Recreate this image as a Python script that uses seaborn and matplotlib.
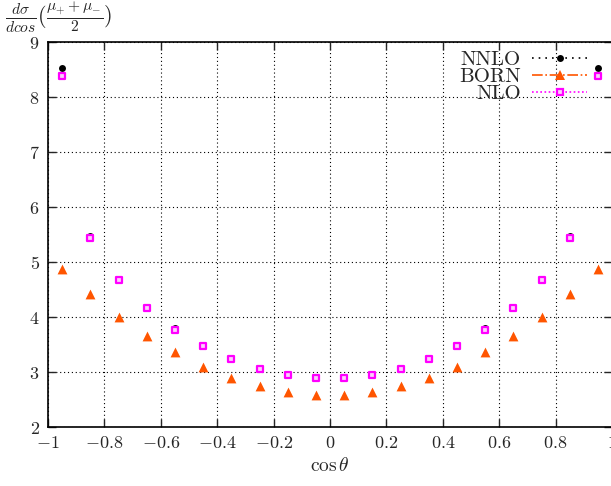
import numpy as np
import pandas as pd
import matplotlib
matplotlib.use("Agg")
import matplotlib.pyplot as plt
import seaborn as sns
from matplotlib.lines import Line2D

# bin centres in cos(theta)
cos_theta = [-0.95, -0.85, -0.75, -0.65, -0.55, -0.45, -0.35, -0.25, -0.15, -0.05,
             0.05, 0.15, 0.25, 0.35, 0.45, 0.55, 0.65, 0.75, 0.85, 0.95]

# values (left half mirrored on the right)
nnlo = [8.53, 5.47, 4.70, 4.19, 3.80, 3.50, 3.25, 3.08, 2.96, 2.90,
        2.90, 2.96, 3.08, 3.25, 3.50, 3.80, 4.19, 4.70, 5.47, 8.53]
born = [4.88, 4.42, 4.00, 3.66, 3.355, 3.09, 2.885, 2.74, 2.63, 2.58,
        2.58, 2.63, 2.74, 2.885, 3.09, 3.355, 3.66, 4.00, 4.42, 4.88]
nlo = [8.39, 5.43, 4.68, 4.17, 3.77, 3.48, 3.23, 3.06, 2.945, 2.89,
       2.89, 2.945, 3.06, 3.23, 3.48, 3.77, 4.17, 4.68, 5.43, 8.39]

xticks = [-1, -0.8, -0.6, -0.4, -0.2, 0, 0.2, 0.4, 0.6, 0.8, 1]
yticks = [2, 3, 4, 5, 6, 7, 8, 9]

ORANGE = "#ff5500"
MAGENTA = "#ff00ff"
PINK = "#fbd0fb"

df = pd.DataFrame({"x": cos_theta, "NNLO": nnlo, "BORN": born, "NLO": nlo})

sns.set_style("ticks")
plt.rcParams["mathtext.fontset"] = "cm"
plt.rcParams["font.family"] = ["cmr10", "DejaVu Serif"]
plt.rcParams["axes.unicode_minus"] = False

fig = plt.figure(figsize=(6.11, 4.86), dpi=100)
ax = fig.add_axes([48 / 611, 1 - 427 / 486, 564 / 611, 385 / 486])

sns.scatterplot(data=df, x="x", y="NNLO", ax=ax, color="black", marker="o",
                s=25, linewidth=0, legend=False, zorder=3)
sns.scatterplot(data=df, x="x", y="BORN", ax=ax, color=ORANGE, marker="^",
                s=50, linewidth=0, legend=False, zorder=3)
sns.scatterplot(data=df, x="x", y="NLO", ax=ax, color=PINK, marker="s",
                s=20, edgecolor=MAGENTA, linewidth=1.6, legend=False, zorder=4)

ax.set_xlim(-1, 1)
ax.set_ylim(2, 9)
ax.set_xticks(xticks)
ax.set_yticks(yticks)
ax.set_xticklabels([r"$%g$" % t for t in xticks], fontsize=13)
ax.set_yticklabels([r"$%d$" % t for t in yticks], fontsize=13)
ax.tick_params(direction="in", length=6, width=1, top=True, right=True, pad=6)
ax.grid(True, color="black", linestyle=(0, (1, 2.5)), linewidth=0.8)
for sp in ax.spines.values():
    sp.set_linewidth(1.2)
    sp.set_color("black")

ax.set_xlabel(r"$\cos\theta$", fontsize=14, labelpad=4)
ax.set_ylabel("")
fig.text(5 / 611, 1 - 17 / 486, r"$\frac{d\sigma}{dcos}(\frac{\mu_{+}+\mu_{-}}{2})$",
         fontsize=16, ha="left", va="center")

handles = [
    Line2D([], [], color="black", linestyle=(0, (1, 3)), linewidth=1.2,
           marker="o", markersize=5, markeredgewidth=0),
    Line2D([], [], color=ORANGE, linestyle="-.", linewidth=1.2,
           marker="^", markersize=7.5, markeredgewidth=0),
    Line2D([], [], color=MAGENTA, linestyle=(0, (1, 1.5)), linewidth=1.2,
           marker="s", markersize=5, markerfacecolor=PINK,
           markeredgecolor=MAGENTA, markeredgewidth=1.6),
]
leg = ax.legend(handles, ["NNLO", "BORN", "NLO"],
                loc="upper right", bbox_to_anchor=(597 / 611, 1 - 40 / 486),
                bbox_transform=fig.transFigure, frameon=False, markerfirst=False,
                prop={"family": "cmr10", "size": 15}, handlelength=2.6,
                handletextpad=0.55, labelspacing=-0.08, borderpad=0, numpoints=1)

fig.savefig("out.png", dpi=100)
